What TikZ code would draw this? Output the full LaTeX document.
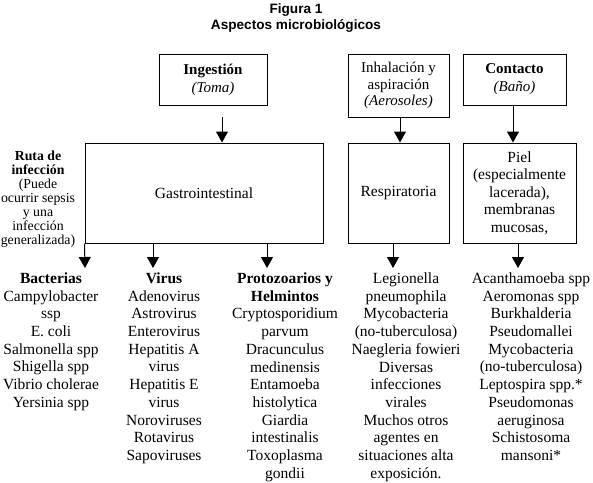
\documentclass[tikz,border=0pt]{standalone}
\usepackage{fontspec}
\setmainfont{Liberation Serif}
\setsansfont{Liberation Sans}
\usetikzlibrary{arrows.meta,calc}
\newcommand\setfs[2]{\fontsize{#1}{#2}\selectfont\lineskiplimit=-100pt\relax}
\begin{document}
\begin{tikzpicture}[x=1pt,y=-1pt,
  box/.style={draw,line width=1pt,inner sep=0pt,align=center,font=\setfs{15.5}{17.7}},
  arr/.style={line width=1pt,-{Triangle[width=12pt,length=11pt]}},
  col/.style={anchor=north,inner sep=0pt,align=center,font=\setfs{15.5}{17.7}},
  ttl/.style={anchor=base,inner sep=0pt,font=\setfs{13.6}{15}\sffamily\bfseries}]
\fill[white] (0,0) rectangle (593,482);
\useasboundingbox (0,0) rectangle (593,482);

% titles
\node[ttl] (t1) at (296,13.5) {Figura 1};
\node[ttl] (t2) at (296,29.5) {Aspectos microbiológicos};

% top boxes
\node[box,minimum width=108pt,minimum height=51pt,font=\setfs{15}{18}] (ing) at (213,79.5) {\textbf{Ingestión}\\\textit{(Toma)}};
\node[box,minimum width=101pt,minimum height=63pt,font=\setfs{15}{16.5}] (inh) at (398.5,85.5) {Inhalación y\\aspiración\\\textit{(Aerosoles)}};
\node[box,minimum width=103pt,minimum height=51pt,font=\setfs{15}{18}] (con) at (514.5,79.5) {\textbf{Contacto}\\\textit{(Baño)}};

% middle boxes
\node[box,minimum width=238pt,minimum height=100pt] (gas) at (204,193) {Gastrointestinal};
\node[box,minimum width=101pt,minimum height=100pt] (res) at (398.5,193) {Respiratoria};
\node[box,minimum width=113pt,minimum height=100pt,font=\setfs{15.5}{17.5}] (piel) at (519.5,193) {Piel\\(especialmente\\lacerada),\\membranas\\mucosas,};

% side label
\node[col,font=\setfs{13.8}{14}] (ruta) at (38,150.7) {\strut\textbf{Ruta de}\\\textbf{infección}\\(Puede\\ocurrir sepsis\\y una\\infección\\generalizada)};

% arrows top -> middle
\coordinate (ingS) at (222,117);
\draw[arr] (ingS) -- (ingS |- gas.north);
\coordinate (xa) at (400,0);
\draw[arr] (xa |- inh.south) -- (xa |- res.north);
\coordinate (xb) at (513,0);
\draw[arr] (xb |- con.south) -- (xb |- piel.north);

% arrows middle -> columns
\coordinate (e1) at (85,268);
\coordinate (e2) at (153,268);
\coordinate (e3) at (267,268);
\coordinate (e4) at (393,268);
\coordinate (e5) at (518,268);
\draw[arr] (gas.south west) -- (e1);
\draw[arr] (e2 |- gas.south) -- (e2);
\draw[arr] (e3 |- gas.south) -- (e3);
\draw[arr] (e4 |- res.south) -- (e4);
\draw[arr] (e5 |- piel.south) -- (e5);

% columns
\node[col] (bac) at (51,270.9) {\strut\textbf{Bacterias}\\Campylobacter\\ssp\\E. coli\\Salmonella spp\\Shigella spp\\Vibrio cholerae\\Yersinia spp};
\node[col] (vir) at (164,270.9) {\strut\textbf{Virus}\\Adenovirus\\Astrovirus\\Enterovirus\\Hepatitis A\\virus\\Hepatitis E\\virus\\Noroviruses\\Rotavirus\\Sapoviruses};
\node[col] (pro) at (285,270.9) {\strut\textbf{Protozoarios y}\\\textbf{Helmintos}\\Cryptosporidium\\parvum\\Dracunculus\\medinensis\\Entamoeba\\histolytica\\Giardia\\intestinalis\\Toxoplasma\\gondii};
\node[col] (resc) at (406,270.9) {\strut Legionella\\pneumophila\\Mycobacteria\\(no-tuberculosa)\\Naegleria fowieri\\Diversas\\infecciones\\virales\\Muchos otros\\agentes en\\situaciones alta\\exposición.};
\node[col] (conc) at (531,270.9) {\strut Acanthamoeba spp\\Aeromonas spp\\Burkhalderia\\Pseudomallei\\Mycobacteria\\(no-tuberculosa)\\Leptospira spp.*\\Pseudomonas\\aeruginosa\\Schistosoma\\mansoni*};
\end{tikzpicture}
\end{document}
